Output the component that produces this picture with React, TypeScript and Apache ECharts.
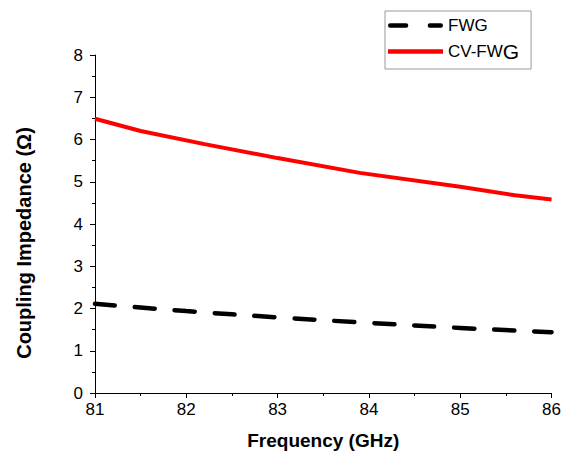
import React, { useEffect, useRef } from "react";
import * as echarts from "echarts";

const fwgX = [81, 82, 83, 84, 85, 86];
const fwgY = [2.11, 1.94, 1.79, 1.66, 1.54, 1.44];
const cvX = [81, 81.5, 82.2, 83, 83.9, 85, 85.6, 86];
const cvY = [6.49, 6.2, 5.89, 5.56, 5.21, 4.88, 4.68, 4.58];
const seriesNames = ["FWG", "CV-FWG"];

export default function App() {
  const ref = useRef<HTMLDivElement>(null);
  useEffect(() => {
    if (!ref.current) return;
    const chart = echarts.init(ref.current, undefined, { renderer: "svg" });
    const font = "Liberation Sans, Arial, sans-serif";
    chart.setOption({
      animation: false,
      backgroundColor: "#fff",
      grid: { left: 95, right: 11, top: 55, bottom: 64 },
      legend: {
        orient: "vertical",
        left: 385,
        top: 11,
        itemWidth: 55,
        itemHeight: 5,
        itemGap: 7,
        padding: [6, 12, 7, 3],
        borderColor: "#999",
        borderWidth: 1,
        textStyle: {
          fontFamily: font,
          fontSize: 17,
          color: "#000",
          rich: {
            a: { fontFamily: font, fontSize: 17, color: "#000" },
            b: { fontFamily: font, fontSize: 21, color: "#000" },
          },
        },
        formatter: (name: string) =>
          name === "CV-FWG" ? "{a|CV-FW}{b|G}" : name,
        data: [
          { name: seriesNames[0], icon: "path://M2,0H18A2,2 0 0 1 18,4.5H2A2,2 0 0 1 2,0ZM42,0H53A2,2 0 0 1 53,4.5H42A2,2 0 0 1 42,0Z" },
          { name: seriesNames[1], icon: "path://M0,0H55V4.5H0Z" },
        ],
      },
      xAxis: {
        type: "value",
        min: 81,
        max: 86,
        interval: 1,
        name: "Frequency (GHz)",
        nameLocation: "middle",
        nameGap: 38,
        nameTextStyle: { fontFamily: font, fontSize: 19, fontWeight: "bold", color: "#000" },
        axisLine: { show: true, onZero: false, lineStyle: { color: "#000", width: 1 } },
        axisTick: { show: true, inside: false, length: 5, lineStyle: { color: "#000" } },
        minorTick: { show: true, splitNumber: 2, length: 3, lineStyle: { color: "#000" } },
        axisLabel: { fontFamily: font, fontSize: 17, color: "#000", margin: 8 },
        splitLine: { show: false },
      },
      yAxis: {
        type: "value",
        min: 0,
        max: 8,
        interval: 1,
        name: "Coupling Impedance (\u03A9)",
        nameLocation: "middle",
        nameGap: 61,
        nameTextStyle: {
          fontFamily: font,
          fontSize: 20,
          fontWeight: "bold",
          color: "#000",
          padding: [0, 38, 0, 0],
        },
        axisLine: { show: true, lineStyle: { color: "#000", width: 1 } },
        axisTick: { show: true, inside: false, length: 5, lineStyle: { color: "#000" } },
        minorTick: { show: true, splitNumber: 2, length: 3, lineStyle: { color: "#000" } },
        axisLabel: { fontFamily: font, fontSize: 17, color: "#000", margin: 12 },
        splitLine: { show: false },
      },
      series: [
        {
          name: seriesNames[0],
          type: "line",
          data: fwgX.map((x, i) => [x, fwgY[i]]),
          showSymbol: false,
          symbol: "none",
          smooth: true,
          lineStyle: { color: "#000", width: 4.5, type: [20, 20], cap: "round" },
          itemStyle: { color: "#000" },
        },
        {
          name: seriesNames[1],
          type: "line",
          data: cvX.map((x, i) => [x, cvY[i]]),
          showSymbol: false,
          symbol: "none",
          lineStyle: { color: "#ff0000", width: 4 },
          itemStyle: { color: "#ff0000" },
        },
      ],
    });
    return () => chart.dispose();
  }, []);
  return <div ref={ref} style={{ width: 564, height: 457, position: "absolute", left: 0, top: 0 }} />;
}
